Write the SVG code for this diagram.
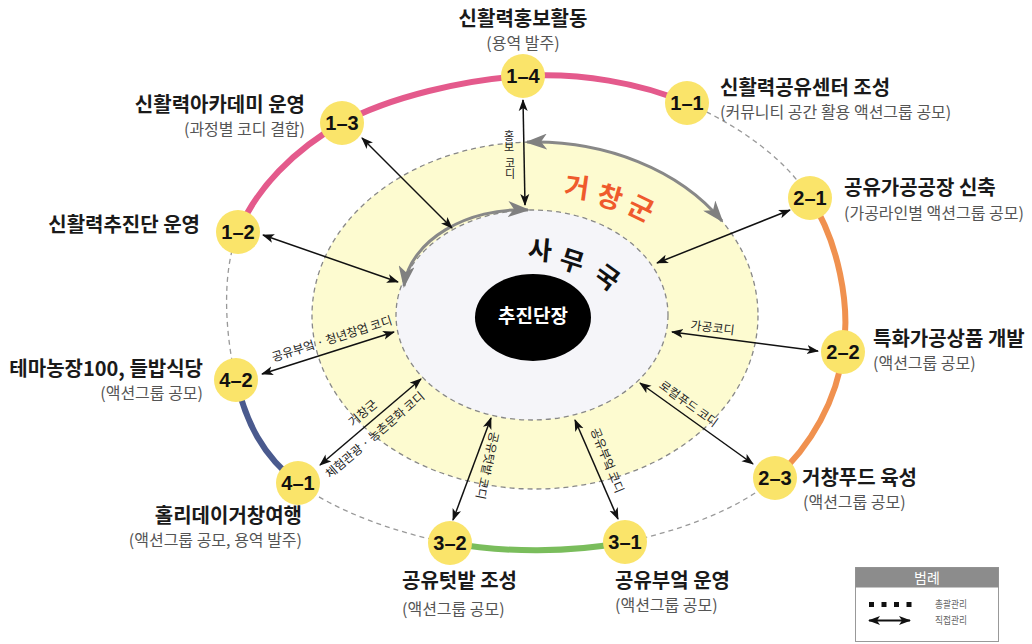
<svg xmlns="http://www.w3.org/2000/svg" width="1032" height="644" viewBox="0 0 1032 644">
<style>
.kr{font-family:"Noto Sans CJK KR","Noto Sans",sans-serif}
.ttl{font-family:"Noto Sans CJK KR",sans-serif;font-size:20px;font-weight:700;fill:#1a1a1a}
.sub{font-family:"Noto Sans CJK KR",sans-serif;font-size:16px;fill:#555}
.num{font-family:"Liberation Sans",Arial,sans-serif;font-size:20px;font-weight:700;fill:#111;text-anchor:middle}
.node{fill:#fae46a}
.lb{font-family:"Noto Sans CJK KR",sans-serif;font-size:12px;fill:#222;text-anchor:middle}
.vt{font-family:"Noto Sans CJK KR",sans-serif;font-size:11px;fill:#222;writing-mode:vertical-rl;text-orientation:upright}
.con{stroke:#111;stroke-width:1.5;fill:none;marker-start:url(#ah);marker-end:url(#ah)}
.dash{fill:none;stroke:#999;stroke-width:1.3;stroke-dasharray:5 4}
.arc{fill:none;stroke-width:6;stroke-linecap:butt}
.big{font-family:"Noto Sans CJK KR",sans-serif;font-weight:700;text-anchor:middle}
</style>
<defs>
<marker id="ah" viewBox="0 0 12 10" refX="11" refY="5" markerWidth="12" markerHeight="10" markerUnits="userSpaceOnUse" orient="auto-start-reverse">
<path d="M0,0.5 L12,5 L0,9.5 L3,5 Z" fill="#111"/>
</marker>
<marker id="gh" viewBox="0 0 22 16" refX="20" refY="8" markerWidth="22" markerHeight="16" markerUnits="userSpaceOnUse" orient="auto-start-reverse">
<path d="M0,0 L22,8 L0,16 L6,8 Z" fill="#808080"/>
</marker>
</defs>
<rect width="1032" height="644" fill="#fff"/>

<g id="ring">
<path class="dash" d="M523,76 C580.5,72.67 639.17,82.67 687,103 C734.83,123.33 784,156.5 810,198 C838,241 851,305.33 843,352 C837.17,398.67 811.33,446.33 775,478 C738.67,509.67 679.17,531.17 625,542 C570.83,552.83 504.5,552.83 450,543 C395.5,533.17 333.67,510.17 298,483 C262.33,455.83 246,421.83 236,380 C226,338.17 220.33,274.83 238,232 C255.67,189.17 294.5,149 342,123 C389.5,97 465.5,79.33 523,76 Z"/>
<path class="arc" stroke="#e45a8c" d="M238,232 C255.67,189.17 294.5,149 342,123 C389.5,97 465.5,79.33 523,76 C580.5,72.67 639.17,82.67 687,103"/>
<path class="arc" stroke="#f0914f" d="M810,198 C838,241 851,305.33 843,352 C837.17,398.67 811.33,446.33 775,478"/>
<path class="arc" stroke="#7abd5c" d="M625,542 C570.83,552.83 504.5,552.83 450,543"/>
<path class="arc" stroke="#4a5a8e" d="M298,483 C262.33,455.83 246,421.83 236,380"/>
</g>

<g id="geochang">
<ellipse cx="535" cy="315.5" rx="223" ry="173.5" fill="#fdfbd0" stroke="#888" stroke-width="1.3" stroke-dasharray="5 4"/>
<text class="big" font-size="27" fill="#ef5a2c" transform="translate(577,187) rotate(8)" y="10">거</text>
<text class="big" font-size="27" fill="#ef5a2c" transform="translate(610,197) rotate(16)" y="10">창</text>
<text class="big" font-size="27" fill="#ef5a2c" transform="translate(641,208) rotate(26)" y="10">군</text>
</g>

<g id="office">
<ellipse cx="532" cy="315" rx="136" ry="105" fill="#f5f5f9" stroke="#888" stroke-width="1.3" stroke-dasharray="5 4"/>
<text class="big" font-size="26" fill="#111" transform="translate(540,250) rotate(5)" y="9.5">사</text>
<text class="big" font-size="26" fill="#111" transform="translate(572,261) rotate(18)" y="9.5">무</text>
<text class="big" font-size="26" fill="#111" transform="translate(607,277) rotate(36)" y="9.5">국</text>
</g>

<g id="leader">
<ellipse cx="533" cy="317.5" rx="58" ry="43.5" fill="#000"/>
<text class="big" font-size="19" fill="#fff" x="533" y="323">추진단장</text>
</g>

<g id="cycles">
<path d="M527,142.1 A223,173.5 0 0 1 722,221" fill="none" stroke="#888" stroke-width="3" marker-start="url(#gh)" marker-end="url(#gh)"/>
<path d="M404,286 C410,240 468,207 528,210" fill="none" stroke="#888" stroke-width="3" marker-start="url(#gh)" marker-end="url(#gh)"/>
</g>

<g id="connectors">
<line class="con" x1="523" y1="100" x2="525" y2="205"/>
<text class="vt" x="509" y="130">홍보</text>
<text class="vt" x="510" y="157">코디</text>
<line class="con" x1="362" y1="138" x2="452" y2="228"/>
<line class="con" x1="263" y1="235" x2="398" y2="282"/>
<line class="con" x1="262" y1="374" x2="394" y2="332"/>
<text class="lb" transform="translate(332,339) rotate(-17.5)" y="4">공유부엌 · 청년창업 코디</text>
<line class="con" x1="320" y1="465" x2="421" y2="379"/>
<g transform="translate(370.5,422) rotate(-40.4)">
<text class="lb" font-size="11.5" x="0" y="-7.5">거창군</text>
<text class="lb" font-size="11.5" x="-5" y="17">체험관광 · 농촌문화 코디</text>
</g>
<line class="con" x1="453" y1="520" x2="491" y2="418"/>
<text class="lb" transform="translate(487,465.5) rotate(102)" y="4">공유텃밭 코디</text>
<line class="con" x1="618" y1="519" x2="575" y2="420"/>
<text class="lb" transform="translate(607,460.5) rotate(68)" y="4">공유부엌 코디</text>
<line class="con" x1="753" y1="464" x2="640" y2="383"/>
<text class="lb" transform="translate(688.5,404) rotate(36)" y="4">로컬푸드 코디</text>
<line class="con" x1="818" y1="351" x2="672" y2="332"/>
<text class="lb" font-size="11" transform="translate(712.5,328) rotate(7)" y="4">가공코디</text>
<line class="con" x1="790" y1="210" x2="657" y2="263"/>
</g>

<g id="n1-4">
<circle class="node" cx="523" cy="76" r="22"/>
<text class="num" x="523" y="83">1–4</text>
<text class="ttl" x="523" y="26" text-anchor="middle">신활력홍보활동</text>
<text class="sub" x="523" y="49" text-anchor="middle">(용역 발주)</text>
</g>
<g id="n1-1">
<circle class="node" cx="687" cy="103" r="22"/>
<text class="num" x="687" y="110">1–1</text>
<text class="ttl" x="720" y="95">신활력공유센터 조성</text>
<text class="sub" x="720" y="118">(커뮤니티 공간 활용 액션그룹 공모)</text>
</g>
<g id="n1-3">
<circle class="node" cx="342" cy="123" r="22"/>
<text class="num" x="342" y="130">1–3</text>
<text class="ttl" x="305" y="112" text-anchor="end">신활력아카데미 운영</text>
<text class="sub" x="305" y="135" text-anchor="end">(과정별 코디 결합)</text>
</g>
<g id="n1-2">
<circle class="node" cx="238" cy="232" r="22"/>
<text class="num" x="238" y="239">1–2</text>
<text class="ttl" x="200" y="232" text-anchor="end">신활력추진단 운영</text>
</g>
<g id="n2-1">
<circle class="node" cx="810" cy="198" r="22"/>
<text class="num" x="810" y="205">2–1</text>
<text class="ttl" x="844" y="195">공유가공공장 신축</text>
<text class="sub" x="844" y="219">(가공라인별 액션그룹 공모)</text>
</g>
<g id="n2-2">
<circle class="node" cx="843" cy="352" r="22"/>
<text class="num" x="843" y="359">2–2</text>
<text class="ttl" x="873" y="346">특화가공상품 개발</text>
<text class="sub" x="873" y="369">(액션그룹 공모)</text>
</g>
<g id="n2-3">
<circle class="node" cx="775" cy="478" r="22"/>
<text class="num" x="775" y="485">2–3</text>
<text class="ttl" x="802" y="485">거창푸드 육성</text>
<text class="sub" x="803" y="508">(액션그룹 공모)</text>
</g>
<g id="n3-1">
<circle class="node" cx="625" cy="542" r="22"/>
<text class="num" x="625" y="549">3–1</text>
<text class="ttl" x="615" y="588">공유부엌 운영</text>
<text class="sub" x="615" y="611">(액션그룹 공모)</text>
</g>
<g id="n3-2">
<circle class="node" cx="450" cy="543" r="22"/>
<text class="num" x="450" y="550">3–2</text>
<text class="ttl" x="402" y="588">공유텃밭 조성</text>
<text class="sub" x="402" y="615">(액션그룹 공모)</text>
</g>
<g id="n4-1">
<circle class="node" cx="298" cy="483" r="22"/>
<text class="num" x="298" y="490">4–1</text>
<text class="ttl" x="302" y="523" text-anchor="end">홀리데이거창여행</text>
<text class="sub" x="302" y="546" text-anchor="end">(액션그룹 공모, 용역 발주)</text>
</g>
<g id="n4-2">
<circle class="node" cx="236" cy="380" r="22"/>
<text class="num" x="236" y="387">4–2</text>
<text class="ttl" x="203" y="376" text-anchor="end">테마농장100, 들밥식당</text>
<text class="sub" x="203" y="399" text-anchor="end">(액션그룹 공모)</text>
</g>

<g id="legend">
<rect x="855.5" y="567.5" width="143" height="74" fill="#fff" stroke="#999" stroke-width="1"/>
<rect x="855.5" y="567.5" width="143" height="20" fill="#8c8c8c"/>
<text class="kr" x="927" y="582.5" font-size="14" fill="#fff" text-anchor="middle">범례</text>
<line x1="869" y1="604.5" x2="912" y2="604.5" stroke="#111" stroke-width="5" stroke-dasharray="5 7.5"/>
<text class="kr" x="935" y="608" font-size="10" fill="#666" textLength="32" lengthAdjust="spacingAndGlyphs">총괄관리</text>
<line x1="869" y1="620.5" x2="910" y2="620.5" stroke="#111" stroke-width="2" marker-start="url(#ah)" marker-end="url(#ah)"/>
<text class="kr" x="935" y="624" font-size="10" fill="#666" textLength="32" lengthAdjust="spacingAndGlyphs">직접관리</text>
</g>
</svg>
